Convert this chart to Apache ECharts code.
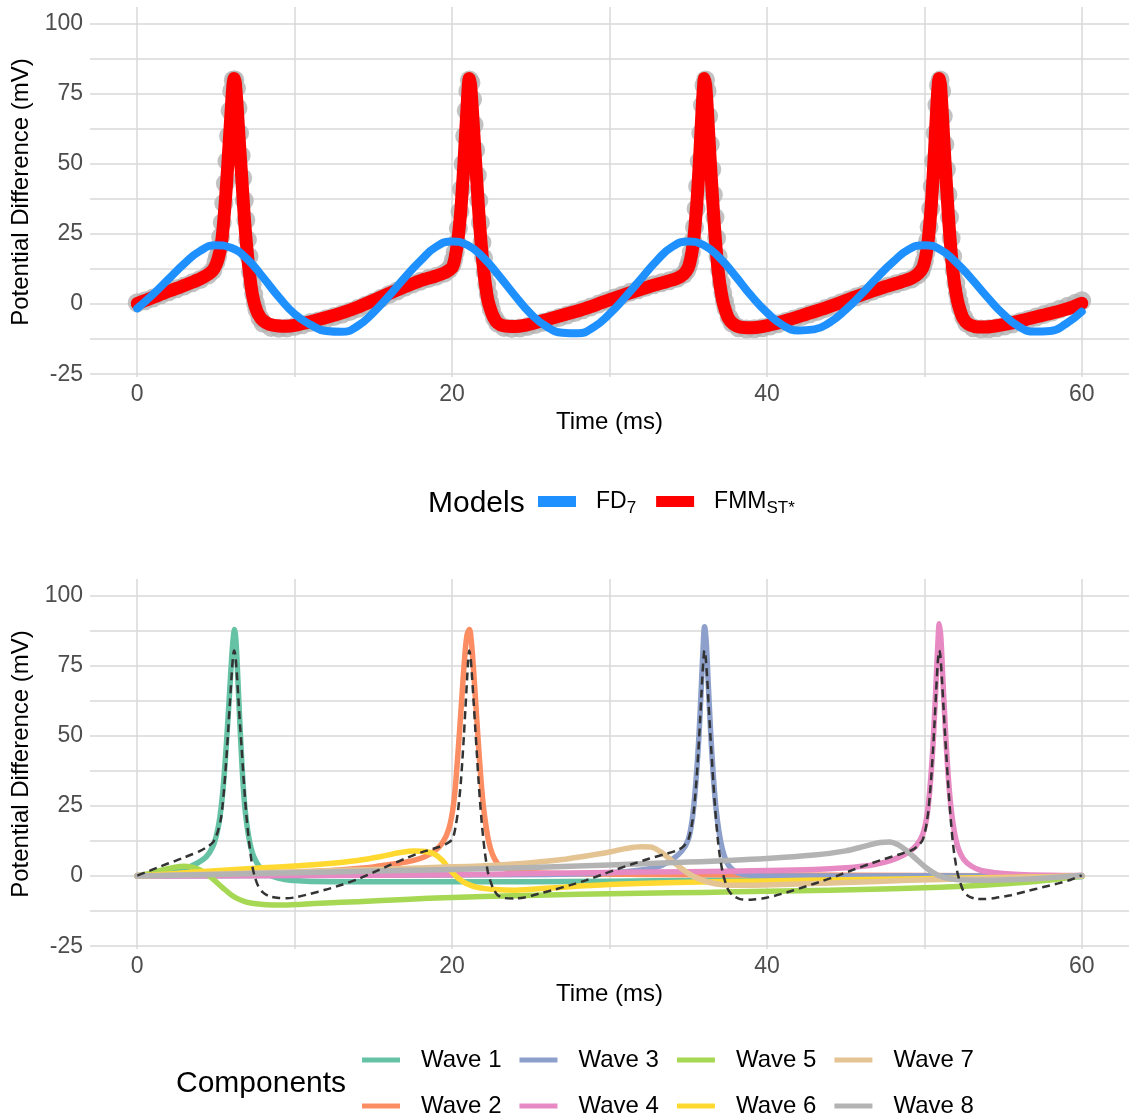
<!DOCTYPE html>
<html>
<head>
<meta charset="utf-8">
<script src="https://cdn.jsdelivr.net/npm/echarts@6/dist/echarts.min.js"></script>
<style>
  html, body { margin: 0; padding: 0; background: #fff; }
  #chart { width: 1136px; height: 1120px; }
</style>
</head>
<body>
<div id="chart"></div>
<script>
const FONT = 'Liberation Sans, Arial, sans-serif';

// axis ticks
const xTicks = [0, 10, 20, 30, 40, 50, 60];
const xLabels = [0, 20, 40, 60];
const yTicks = [-25, -12.5, 0, 12.5, 25, 37.5, 50, 62.5, 75, 87.5, 100];
const yLabels = [-25, 0, 25, 50, 75, 100];

// observed signal (gray points), [ms, mV]
const observed = [
  [0,0.5],[0.5,1.2],[1,2.2],[1.5,3.3],[2,4.4],[2.5,5.5],[3,6.5],[3.5,7.6],[4,8.8],[4.5,10.4],[4.8,12],
  [5.0,15],[5.1,17],[5.2,20],[5.3,24],[5.4,29],[5.5,36],[5.6,43],[5.7,51],[5.8,60],[5.9,69],[6.0,76],
  [6.1,80],[6.2,80],[6.3,77],[6.4,70],[6.5,61],[6.6,53],[6.7,45],[6.8,37],[6.9,30],[7.0,23],[7.1,17],
  [7.2,11.5],[7.3,7],[7.4,3.5],[7.5,0.5],[7.6,-2],[7.8,-5],[8.0,-6.8],[8.5,-8.3],[9,-8.6],[9.5,-8.5],
  [10,-8],[10.5,-7.4],[11,-6.6],[11.5,-6],[12,-5.2],[12.5,-4.4],[13,-3.6],[13.5,-2.6],[14,-1.6],[14.5,-0.4],
  [15,0.8],[15.5,2.1],[16,3.4],[16.5,4.7],[17,6],[17.5,7.2],[18,8.2],[18.5,9.1],[19,9.9],[19.5,11],[19.8,12.3],
  [20.0,14],[20.1,16],[20.2,18.5],[20.3,22],[20.4,27],[20.5,33],[20.6,41],[20.7,50],[20.8,60],[20.9,69],
  [21.0,76],[21.1,80],[21.2,79],[21.3,73],[21.4,64],[21.5,55],[21.6,46],[21.7,37],[21.8,29],[21.9,22],
  [22.0,16.5],[22.1,11.5],[22.2,7],[22.3,3.5],[22.4,0.5],[22.5,-2],[22.7,-5],[22.9,-6.8],[23.3,-8.3],[23.8,-8.7],
  [24.3,-8.5],[24.8,-8],[25.3,-7.3],[25.8,-6.5],[26.3,-5.7],[26.8,-4.8],[27.3,-3.9],[27.8,-3],[28.3,-2],
  [28.8,-1],[29.3,0],[29.8,1.1],[30.3,2.2],[30.8,3.2],[31.3,4.2],[31.8,5.1],[32.3,6],[32.8,6.9],[33.3,7.6],
  [33.8,8.3],[34.3,9.2],[34.7,10.6],[34.9,12],[35.0,13.5],[35.1,15.5],[35.2,18.5],[35.3,22.5],[35.4,27.5],
  [35.5,34],[35.6,42],[35.7,51],[35.8,61],[35.9,71],[36.0,78],[36.1,80],[36.2,76],[36.3,67],[36.4,57],
  [36.5,48],[36.6,39],[36.7,31],[36.8,23.5],[36.9,17],[37.0,12],[37.1,7.5],[37.2,4],[37.3,1],[37.4,-1.5],
  [37.6,-4.8],[37.8,-6.8],[38.2,-8.4],[38.7,-8.9],[39.2,-8.8],[39.7,-8.4],[40.2,-7.8],[40.7,-7],[41.2,-6.2],
  [41.7,-5.3],[42.2,-4.4],[42.7,-3.5],[43.2,-2.6],[43.7,-1.6],[44.2,-0.6],[44.7,0.5],[45.2,1.6],[45.7,2.6],
  [46.2,3.6],[46.7,4.6],[47.2,5.6],[47.7,6.5],[48.2,7.3],[48.7,8.1],[49.2,9],[49.6,10.5],[49.8,11.8],
  [49.9,13.5],[50.0,15.5],[50.1,18.5],[50.2,22.5],[50.3,27.5],[50.4,34],[50.5,42],[50.6,51],[50.7,61],
  [50.8,71],[50.9,78],[51.0,80],[51.1,76],[51.2,67],[51.3,57],[51.4,48],[51.5,39],[51.6,31],[51.7,23.5],
  [51.8,17],[51.9,12],[52.0,7.5],[52.1,4],[52.2,1],[52.3,-1.5],[52.5,-4.8],[52.7,-6.8],[53.1,-8.4],[53.6,-8.9],
  [54.1,-8.8],[54.6,-8.4],[55.1,-7.8],[55.6,-7.1],[56.1,-6.3],[56.6,-5.5],[57.1,-4.6],[57.6,-3.7],[58.1,-2.8],
  [58.6,-1.8],[59.1,-0.8],[59.6,0.3],[60,1.2]
];

// FMM_ST* fitted signal (red line, dashed line below)
const fmmFit = [
  [0,0.2],[0.5,1.3],[1,2.4],[1.5,3.5],[2,4.6],[2.5,5.6],[3,6.7],[3.5,7.8],[4,9],[4.5,10.6],[4.8,12],
  [5.0,14],[5.15,16.5],[5.3,20],[5.4,24],[5.5,30],[5.6,37],[5.7,45],[5.8,54],[5.9,63],[6.0,72],[6.08,78],
  [6.15,80.5],[6.23,79],[6.33,72],[6.43,63],[6.53,54],[6.63,46],[6.73,37],[6.83,29],[6.93,22],[7.03,16],
  [7.13,11],[7.23,6.5],[7.33,3],[7.48,-0.5],[7.68,-3.5],[7.98,-5.8],[8.4,-7.2],[9,-7.8],[9.5,-7.9],[10,-7.6],
  [11,-6.3],[12,-4.8],[13,-3.1],[14,-1.1],[15,1.3],[16,3.8],[17,6.2],[18,8.4],[19,10.1],[19.6,11.4],
  [20.0,13],[20.15,15.5],[20.25,18.5],[20.35,22],[20.45,27],[20.55,33],[20.65,41],[20.75,50],[20.85,60],
  [20.95,70],[21.02,77],[21.09,80.5],[21.17,78.5],[21.27,71],[21.37,62],[21.47,53],[21.57,44],[21.67,35],
  [21.77,27],[21.87,20],[21.97,14],[22.07,9],[22.17,5],[22.27,1.5],[22.42,-1.5],[22.62,-4.5],[22.9,-6.8],
  [23.3,-7.8],[24,-8],[24.6,-7.6],[25.5,-6.3],[26.5,-4.8],[27.5,-3.2],[28.5,-1.5],[29.5,0.5],[30.5,2.5],
  [31.5,4.4],[32.5,6.2],[33.5,7.8],[34.3,9.2],[34.7,10.6],[35.0,13],[35.15,16],[35.25,19],[35.35,23],
  [35.45,29],[35.55,36],[35.65,45],[35.75,55],[35.85,66],[35.95,76],[36.03,80.5],[36.11,78],[36.2,71],
  [36.3,61],[36.4,51],[36.5,42],[36.6,33],[36.7,25],[36.8,18],[36.9,12],[37.0,7.5],[37.1,4],[37.2,1],
  [37.35,-2],[37.55,-5],[37.85,-7],[38.3,-8.2],[39,-8.4],[39.7,-8],[40.5,-7],[41.5,-5.4],[42.5,-3.6],
  [43.5,-1.8],[44.5,0.2],[45.5,2.3],[46.5,4.3],[47.5,6.2],[48.5,7.9],[49.2,9.3],[49.6,10.8],[49.9,13],
  [50.05,16],[50.15,19],[50.25,23],[50.35,29],[50.45,36],[50.55,45],[50.65,55],[50.75,66],[50.85,76],
  [50.94,80.5],[51.02,78.5],[51.11,71],[51.21,61],[51.31,51],[51.41,42],[51.51,33],[51.61,25],[51.71,18],
  [51.81,12],[51.91,7.5],[52.01,4],[52.11,1],[52.26,-2],[52.46,-5],[52.76,-7],[53.2,-8],[53.8,-8.2],
  [54.5,-7.8],[55.5,-6.8],[56.5,-5.4],[57.5,-4],[58.5,-2.6],[59.3,-1.3],[60,0.3]
];

// FD_7 fit (blue line)
const fd7 = [
  [0,-1.5],[1,3.5],[2,9],[3,14.5],[4,19],[5,21],[6,20],[7,16],[8,9.5],[9,2.5],[10,-3.5],[11,-7.3],
  [12,-9.6],[13,-9.9],[14,-7.8],[15,-3],[16,3],[17,9.5],[18,15.5],[19,20.5],[20,22.3],[21,21],[22,16.5],
  [23,10],[24,3],[25,-3.5],[26,-8],[27,-10.2],[28,-10.4],[29,-8.2],[30,-3.5],[31,2.5],[32,9],[33,15.5],
  [34,20.5],[35,22.3],[36,21],[37,16.5],[38,10],[39,3],[40,-3],[41,-7.5],[42,-9.4],[43,-9],[44,-6.5],
  [45,-2],[46,3.5],[47,9.5],[48,15],[49,19.5],[50,21],[51,19.5],[52,15],[53,9],[54,2.5],[55,-3.5],
  [56,-8],[57,-9.8],[58,-9.6],[59,-7],[60,-2.7]
];

// FMM components
const wave1 = [
  [0,0.2],[1,0.6],[2,1.3],[3,2.6],[3.8,4.6],[4.4,7],[4.8,10.5],[5.05,15],[5.25,21],[5.45,31],[5.65,46],
  [5.85,64],[6.0,78],[6.1,85],[6.18,88],[6.27,84],[6.38,72],[6.5,57],[6.65,40],[6.8,27],[6.95,19],[7.15,12],
  [7.4,7],[7.8,3],[8.2,1],[9,-0.8],[10,-1.6],[11,-1.9],[14,-2],[20,-2],[25,-2],[30,-1.8],[36,-1.5],
  [42,-1.2],[48,-0.9],[54,-0.5],[60,-0.2]
];
const wave2 = [
  [0,0.2],[4,0.5],[8,1],[11,1.6],[13,2.3],[15,3.3],[16.5,4.5],[17.5,5.5],[18.3,7],[18.9,9],[19.4,12],
  [19.8,17],[20.1,26],[20.35,42],[20.6,62],[20.8,78],[20.95,86],[21.1,88],[21.22,84],[21.36,74],[21.5,62],
  [21.65,49],[21.8,37],[21.95,27],[22.1,20],[22.3,13],[22.55,8],[22.9,4.5],[23.5,2.3],[24.3,1.5],
  [27,0.9],[32,0.6],[40,0.4],[50,0.2],[60,0]
];
const wave3 = [
  [0,0],[10,0.2],[20,0.4],[26,0.6],[30,1.2],[32,2.2],[33.2,3.6],[34,6],[34.6,9],[35.0,13],[35.25,20],
  [35.45,31],[35.65,47],[35.82,66],[35.95,82],[36.04,89],[36.14,84],[36.27,69],[36.42,52],[36.58,37],
  [36.75,25],[36.95,16],[37.2,9],[37.55,4],[38.1,1.3],[39,0.3],[41,0],[50,0.1],[60,0]
];
const wave4 = [
  [0,0],[10,0.2],[20,0.5],[25,0.9],[30,1.3],[35,1.6],[40,2],[43,2.4],[45,3],[46.5,3.8],[47.5,5],
  [48.3,6.5],[49,8.5],[49.5,11],[49.9,15],[50.15,21],[50.35,31],[50.55,47],[50.72,66],[50.85,82],
  [50.95,90],[51.05,85],[51.18,70],[51.33,53],[51.5,37],[51.68,25],[51.9,16],[52.15,10],[52.5,6],
  [53,3.5],[53.6,2],[54.5,1.2],[56,0.6],[58,0.3],[60,0.2]
];
const wave5 = [
  [0,0],[0.8,1],[1.6,2.2],[2.4,3.2],[3.0,3.5],[3.6,3],[4.2,1.5],[4.8,-1],[5.4,-4],[6.0,-6.8],[6.6,-8.6],
  [7.3,-9.7],[8.2,-10.2],[9.2,-10.3],[10.5,-10],[12,-9.6],[14,-9.1],[17,-8.3],[20,-7.6],[24,-7],[28,-6.5],
  [32,-6.1],[36,-5.8],[40,-5.4],[44,-5],[48,-4.5],[51,-4],[54,-3.2],[56,-2.4],[58,-1.4],[60,0]
];
const wave6 = [
  [0,0],[2,0.8],[4,1.6],[6,2.3],[8,3],[10,3.6],[12,4.4],[14,5.6],[15.5,7],[16.7,8.4],[17.6,9],[18.3,8.8],
  [18.9,7.8],[19.4,5.5],[19.9,2],[20.4,-0.8],[20.9,-2.6],[21.6,-4],[22.8,-4.8],[24,-5],[26,-4.3],[30,-3],
  [35,-2.2],[40,-1.7],[45,-1.3],[50,-0.9],[55,-0.5],[60,0]
];
const wave7 = [
  [0,0],[5,0.8],[10,1.6],[15,2.4],[20,3.3],[23,4],[25,4.8],[27,5.9],[28.5,7.2],[30,8.6],[31,9.8],[32,10.5],
  [32.6,10.4],[33.2,8.8],[33.8,6.2],[34.4,3.5],[35,1],[35.6,-0.8],[36.3,-2.2],[37.2,-3.1],[38.5,-3.3],
  [41,-3],[45,-2.3],[49,-1.5],[53,-0.9],[57,-0.4],[60,0]
];
const wave8 = [
  [0,0],[5,0.6],[10,1.2],[15,1.8],[20,2.4],[25,3.1],[30,4],[35,5],[40,6.3],[43,7.5],[45,9],[46.3,10.8],
  [47.2,12],[47.8,12.2],[48.4,11],[49,8.5],[49.6,5.5],[50.2,2.6],[50.8,0.5],[51.5,-0.8],[52.5,-1.4],
  [54,-1.5],[56,-1.2],[58,-0.6],[60,0.3]
];

const waveNames = ['Wave 1', 'Wave 2', 'Wave 3', 'Wave 4', 'Wave 5', 'Wave 6', 'Wave 7', 'Wave 8'];
const waveColors = ['#66C2A5', '#FC8D62', '#8DA0CB', '#E78AC3', '#A6D854', '#FFD92F', '#E5C494', '#B3B3B3'];
const waves = [wave1, wave2, wave3, wave4, wave5, wave6, wave7, wave8];

const chart = echarts.init(document.getElementById('chart'));

const gridLine = { show: true, lineStyle: { color: '#d9d9d9', width: 1.5 } };

function xAxisFor(gridIndex) {
  return {
    type: 'value', gridIndex, min: -3, max: 63,
    name: 'Time (ms)', nameLocation: 'middle', nameGap: 33,
    nameTextStyle: { fontSize: 24, fontFamily: FONT, color: '#000' },
    axisLine: { show: false },
    axisTick: { show: false, customValues: xTicks },
    axisLabel: { customValues: xLabels, fontSize: 23, fontFamily: FONT, color: '#4d4d4d', margin: 6 },
    splitLine: gridLine
  };
}
function yAxisFor(gridIndex) {
  return {
    type: 'value', gridIndex, min: -26, max: 106,
    name: 'Potential Difference (mV)', nameLocation: 'middle', nameGap: 55,
    nameTextStyle: { fontSize: 24, fontFamily: FONT, color: '#000' },
    axisLine: { show: false },
    axisTick: { show: false, customValues: yTicks },
    axisLabel: { customValues: yLabels, fontSize: 23, fontFamily: FONT, color: '#4d4d4d', margin: 7 },
    splitLine: gridLine
  };
}

const series = [
  {
    name: 'Observed', type: 'scatter', xAxisIndex: 0, yAxisIndex: 0,
    data: observed, symbolSize: 19, itemStyle: { color: '#b3b3b3' }, silent: true
  },
  {
    name: 'FMM', type: 'line', xAxisIndex: 0, yAxisIndex: 0, data: fmmFit,
    color: '#ff0000', showSymbol: false, smooth: 0.25,
    lineStyle: { color: '#ff0000', width: 13, cap: 'round', join: 'round' }
  },
  {
    name: 'FD7', type: 'line', xAxisIndex: 0, yAxisIndex: 0, data: fd7,
    color: '#1e90ff', showSymbol: false, smooth: 0.5,
    lineStyle: { color: '#1e90ff', width: 8, cap: 'round' }
  }
];

waves.forEach((w, i) => {
  series.push({
    name: waveNames[i], type: 'line', xAxisIndex: 1, yAxisIndex: 1, data: w,
    color: waveColors[i], showSymbol: false, smooth: 0.35,
    lineStyle: { color: waveColors[i], width: 5.5, cap: 'round', join: 'round' }
  });
});

series.push({
  name: 'Fit', type: 'line', xAxisIndex: 1, yAxisIndex: 1, data: fmmFit,
  color: '#333', showSymbol: false, smooth: 0.25,
  lineStyle: { color: '#333', width: 2.5, type: [8, 5] }
});

const waveLegend = (items, top) => ({
  data: items, left: 362, top, padding: 0, orient: 'horizontal',
  icon: 'rect', itemWidth: 38, itemHeight: 5, itemGap: 18, selectedMode: false,
  itemStyle: { borderWidth: 0 },
  textStyle: { fontSize: 24, lineHeight: 28, fontFamily: FONT, color: '#000', padding: [0, 0, 0, 16] }
});

chart.setOption({
  backgroundColor: '#fff',
  animation: false,
  grid: [
    { left: 90, right: 7, top: 7, height: 370, outerBoundsMode: 'none' },
    { left: 90, right: 7, top: 579, height: 370, outerBoundsMode: 'none' }
  ],
  xAxis: [xAxisFor(0), xAxisFor(1)],
  yAxis: [yAxisFor(0), yAxisFor(1)],
  legend: [
    {
      data: ['FD7', 'FMM'], left: 538, top: 490, padding: 0, orient: 'horizontal',
      icon: 'rect', itemWidth: 38, itemHeight: 11, itemGap: 20, selectedMode: false,
      itemStyle: { borderWidth: 0 },
      formatter: n => n === 'FD7' ? '{b|FD}{s|7}' : '{b|FMM}{s|ST*}',
      textStyle: {
        padding: [0, 0, 0, 15],
        rich: {
          b: { fontSize: 23, lineHeight: 30, fontFamily: FONT, color: '#000' },
          s: { fontSize: 17, lineHeight: 16, fontFamily: FONT, color: '#000', verticalAlign: 'bottom' }
        }
      }
    },
    waveLegend(['Wave 1', 'Wave 3', 'Wave 5', 'Wave 7'], 1046),
    waveLegend(['Wave 2', 'Wave 4', 'Wave 6', 'Wave 8'], 1092)
  ],
  graphic: [
    { type: 'text', x: 428, y: 504, style: { text: 'Models', fontSize: 30, fontFamily: FONT, fill: '#000', verticalAlign: 'middle' } },
    { type: 'text', x: 176, y: 1084, style: { text: 'Components', fontSize: 30, fontFamily: FONT, fill: '#000', verticalAlign: 'middle' } }
  ],
  series
});
</script>
</body>
</html>
